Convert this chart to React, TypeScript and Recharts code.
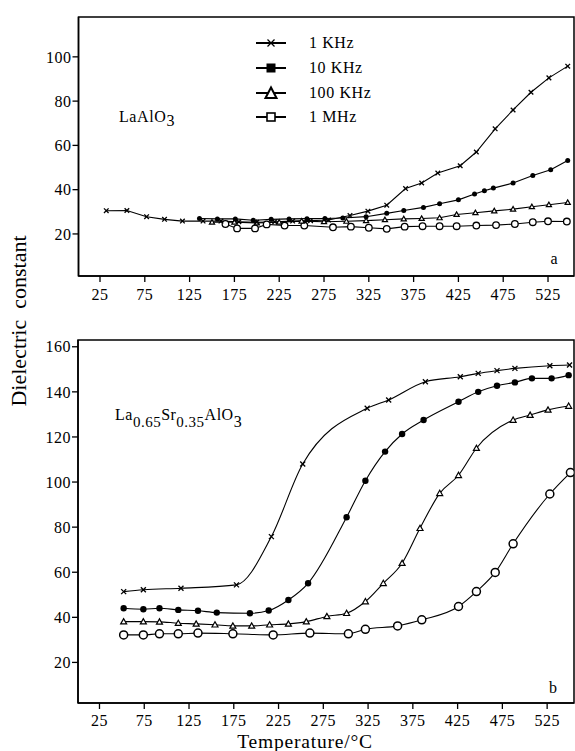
import React from 'react';
import { LineChart, Line, XAxis, YAxis, ReferenceArea, Legend } from 'recharts';

type Pt = [number, number];

const FONT = 'Liberation Serif, Times New Roman, serif';

const xTicks = [25, 75, 125, 175, 225, 275, 325, 375, 425, 475, 525];
const topYTicks = [20, 40, 60, 80, 100];
const bottomYTicks = [20, 40, 60, 80, 100, 120, 140, 160];
const seriesNames = ['1 KHz', '10 KHz', '100 KHz', '1 MHz'];

// (a) LaAlO3
const topKHz1: Pt[] = [
  [32, 30.5], [55, 30.6], [77, 27.8], [97, 26.6], [117, 25.8], [140, 25.8], [160, 25.8],
  [180, 25.5], [200, 25.3], [220, 25.5], [240, 25.8], [260, 26], [280, 26.3], [304, 28.3],
  [324, 30.3], [345, 33], [366, 40.5], [384, 43], [402, 47.5], [427, 50.8], [445, 57],
  [466, 67.5], [486, 76], [506, 84], [526, 90.5], [547, 95.8],
];
const topKHz10: Pt[] = [
  [136, 27], [156, 26.8], [176, 26.8], [196, 26.2], [216, 26.6], [236, 26.8], [256, 26.9],
  [276, 27], [296, 27.2], [322, 27.8], [345, 29.3], [364, 30.6], [386, 32], [404, 33.6],
  [425, 35.4], [443, 38], [454, 39.5], [464, 40.7], [486, 43], [508, 46.4], [528, 49], [547, 53.2],
];
const topKHz100: Pt[] = [
  [150, 25.3], [175, 25.3], [200, 25], [225, 25.3], [250, 25.8], [275, 25.5], [300, 25.7],
  [322, 26], [343, 26.4], [364, 26.8], [384, 27], [404, 27.3], [423, 28.8], [444, 29.6],
  [465, 30.4], [486, 31.2], [507, 32.3], [526, 33.2], [547, 34.2],
];
const topMHz1: Pt[] = [
  [165, 24.5], [178, 22.5], [198, 22.5], [211, 24.3], [231, 23.8], [253, 23.8], [285, 23],
  [305, 23.3], [325, 22.8], [345, 22.3], [365, 23.3], [385, 23.5], [404, 23.5], [423, 23.5],
  [445, 23.8], [467, 24], [488, 24.5], [508, 25.3], [525, 25.7], [546, 25.6],
];

// (b) La0.65Sr0.35AlO3
const botKHz1: Pt[] = [
  [52, 51.4], [74, 52.2], [116, 52.9], [178, 54.4], [217, 75.8], [252, 108], [324, 132.7],
  [348, 136.4], [389, 144.5], [428, 146.7], [448, 148.2], [469, 149.4], [489, 150.4],
  [528, 151.6], [550, 151.9],
];
const botKHz10: Pt[] = [
  [52, 44], [74, 43.6], [92, 44], [113, 43.3], [135, 42.9], [156, 42.1], [193, 41.8],
  [214, 43], [236, 47.7], [258, 55.1], [301, 84.4], [322, 100.6], [344, 113.5], [363, 121.3],
  [387, 127.5], [426, 135.6], [448, 140], [469, 142.7], [489, 144.2], [508, 146], [530, 146],
  [549, 147.4],
];
const botKHz100: Pt[] = [
  [52, 38.1], [74, 38.1], [92, 38], [113, 37.4], [133, 37.1], [154, 36.7], [174, 36.2],
  [195, 36.2], [215, 36.7], [236, 37.1], [256, 38.1], [279, 40.4], [301, 41.8], [322, 47],
  [342, 55.1], [363, 64], [383, 79.5], [405, 95], [426, 103], [446, 115], [487, 127.5],
  [506, 129.7], [526, 132], [549, 133.7],
];
const botMHz1: Pt[] = [
  [52, 32.2], [74, 32.2], [92, 32.7], [113, 32.7], [135, 33], [174, 32.7], [219, 32.2],
  [260, 33], [303, 32.7], [322, 34.7], [358, 36.2], [385, 38.9], [426, 44.8], [446, 51.4],
  [467, 59.9], [487, 72.6], [528, 94.7], [551, 104.2],
];

const rows = (pts: Pt[]) => pts.map(([x, y]) => ({ x, y }));

const tickStyle = { fill: '#000', fontSize: 16, fontFamily: FONT, letterSpacing: 0.5 };

const Cross = ({ cx, cy, s }: any) =>
  cx == null ? null : (
    <g>
      <line x1={cx - s} y1={cy - s} x2={cx + s} y2={cy + s} stroke="#000" strokeWidth={1.3} />
      <line x1={cx - s} y1={cy + s} x2={cx + s} y2={cy - s} stroke="#000" strokeWidth={1.3} />
    </g>
  );
const Disc = ({ cx, cy, r }: any) => (cx == null ? null : <circle cx={cx} cy={cy} r={r} fill="#000" />);
const Tri = ({ cx, cy, s, fill }: any) =>
  cx == null ? null : (
    <polygon
      points={`${cx},${cy - s} ${cx - s},${cy + s * 0.75} ${cx + s},${cy + s * 0.75}`}
      fill={fill}
      stroke="#000"
      strokeWidth={1.2}
    />
  );
const Ring = ({ cx, cy, r, w }: any) =>
  cx == null ? null : <circle cx={cx} cy={cy} r={r} fill="#fff" stroke="#000" strokeWidth={w} />;

const LegendBox = () => (
  <div style={{ fontFamily: FONT, fontSize: 16, color: '#000' }}>
    {seriesNames.map((n, i) => (
      <div key={n} style={{ height: 24.7, display: 'flex', alignItems: 'center' }}>
        <svg width={32} height={16} style={{ display: 'block' }}>
          <line x1={1} x2={31} y1={8} y2={8} stroke="#000" strokeWidth={2} />
          {i === 0 && <Cross cx={16} cy={8} s={3.5} />}
          {i === 1 && <rect x={11.5} y={3.5} width={9} height={9} fill="#000" />}
          {i === 2 && <polygon points="16,2.5 10.5,13 21.5,13" fill="#fff" stroke="#000" strokeWidth={2} />}
          {i === 3 && <rect x={12} y={4} width={8} height={8} fill="#fff" stroke="#000" strokeWidth={1.6} />}
        </svg>
        <span style={{ marginLeft: 22, letterSpacing: 0.6, whiteSpace: 'nowrap' }}>{n}</span>
      </div>
    ))}
  </div>
);

const axisLineStyle = { stroke: '#000', strokeWidth: 1.5 };
const tickLineStyle = { stroke: '#000', strokeWidth: 1.3 };

const TopChart = () => (
  <LineChart width={575} height={320} margin={{ top: 17, right: 1, bottom: 0, left: 0 }}>
    <XAxis type="number" dataKey="x" domain={[1, 554]} ticks={xTicks} interval={0} allowDataOverflow
      height={44} tickSize={6} tickMargin={7} axisLine={axisLineStyle} tickLine={tickLineStyle} tick={tickStyle} />
    <YAxis type="number" dataKey="y" domain={[1, 118]} ticks={topYTicks} interval={0} allowDataOverflow
      width={78.5} tickSize={6} tickMargin={1} axisLine={axisLineStyle} tickLine={tickLineStyle} tick={tickStyle} />
    <ReferenceArea x1={1} x2={554} y1={1} y2={118} fill="none" stroke="#000" strokeWidth={1.5} ifOverflow="visible" />
    <Line data={rows(topMHz1)} dataKey="y" name={seriesNames[3]} type="linear" stroke="#000" strokeWidth={1.1}
      isAnimationActive={false} dot={(p: any) => <Ring key={`a3-${p.index}`} cx={p.cx} cy={p.cy} r={3.3} w={1.3} />} />
    <Line data={rows(topKHz100)} dataKey="y" name={seriesNames[2]} type="linear" stroke="#000" strokeWidth={1.1}
      isAnimationActive={false} dot={(p: any) => <Tri key={`a2-${p.index}`} cx={p.cx} cy={p.cy} s={2.6} fill="#fff" />} />
    <Line data={rows(topKHz10)} dataKey="y" name={seriesNames[1]} type="linear" stroke="#000" strokeWidth={1.1}
      isAnimationActive={false} dot={(p: any) => <Disc key={`a1-${p.index}`} cx={p.cx} cy={p.cy} r={2.5} />} />
    <Line data={rows(topKHz1)} dataKey="y" name={seriesNames[0]} type="linear" stroke="#000" strokeWidth={1.1}
      isAnimationActive={false} dot={(p: any) => <Cross key={`a0-${p.index}`} cx={p.cx} cy={p.cy} s={2.3} />} />
    <Legend layout="vertical" align="center" verticalAlign="middle" content={() => <LegendBox />}
      wrapperStyle={{ position: 'absolute', left: 255, top: 31, width: 170, height: 100 }} />
  </LineChart>
);

const BottomChart = () => (
  <LineChart width={575} height={431} margin={{ top: 20, right: 1, bottom: 0, left: 0 }}>
    <XAxis type="number" dataKey="x" domain={[1, 555]} ticks={xTicks} interval={0} allowDataOverflow
      height={48} tickSize={6} tickMargin={6} axisLine={axisLineStyle} tickLine={tickLineStyle} tick={tickStyle} />
    <YAxis type="number" dataKey="y" domain={[2, 163]} ticks={bottomYTicks} interval={0} allowDataOverflow
      width={78} tickSize={6} tickMargin={1} axisLine={axisLineStyle} tickLine={tickLineStyle} tick={tickStyle} />
    <ReferenceArea x1={1} x2={555} y1={2} y2={163} fill="none" stroke="#000" strokeWidth={1.5} ifOverflow="visible" />
    <Line data={rows(botMHz1)} dataKey="y" name={seriesNames[3]} type="monotone" stroke="#000" strokeWidth={1.1}
      isAnimationActive={false} dot={(p: any) => <Ring key={`b3-${p.index}`} cx={p.cx} cy={p.cy} r={4} w={1.5} />} />
    <Line data={rows(botKHz100)} dataKey="y" name={seriesNames[2]} type="monotone" stroke="#000" strokeWidth={1.1}
      isAnimationActive={false} dot={(p: any) => <Tri key={`b2-${p.index}`} cx={p.cx} cy={p.cy} s={3} fill="#fff" />} />
    <Line data={rows(botKHz10)} dataKey="y" name={seriesNames[1]} type="monotone" stroke="#000" strokeWidth={1.1}
      isAnimationActive={false} dot={(p: any) => <Disc key={`b1-${p.index}`} cx={p.cx} cy={p.cy} r={3.2} />} />
    <Line data={rows(botKHz1)} dataKey="y" name={seriesNames[0]} type="monotone" stroke="#000" strokeWidth={1.1}
      isAnimationActive={false} dot={(p: any) => <Cross key={`b0-${p.index}`} cx={p.cx} cy={p.cy} s={2.5} />} />
  </LineChart>
);

export default function App() {
  return (
    <div style={{ position: 'absolute', left: 0, top: 0, width: 575, height: 751, background: '#fff', overflow: 'hidden', fontFamily: FONT }}>
      <div style={{ position: 'absolute', left: 0, top: 0 }}>
        <TopChart />
      </div>
      <div style={{ position: 'absolute', left: 0, top: 320 }}>
        <BottomChart />
      </div>
      <svg width={575} height={751} style={{ position: 'absolute', left: 0, top: 0, pointerEvents: 'none' }}
        fontFamily={FONT} fill="#000">
        <text x={119} y={122} fontSize={16} letterSpacing={0.6}>
          LaAlO<tspan dy={4}>3</tspan>
        </text>
        <text x={554} y={264} fontSize={16} textAnchor="middle">a</text>
        <text x={115} y={420} fontSize={16} letterSpacing={0.5}>
          La<tspan dy={7} fontSize={15}>0.65</tspan>
          <tspan dy={-7}>Sr</tspan>
          <tspan dy={7} fontSize={15}>0.35</tspan>
          <tspan dy={-7}>AlO</tspan>
          <tspan dy={7}>3</tspan>
        </text>
        <text x={553} y={693} fontSize={16} textAnchor="middle">b</text>
        <text transform="translate(25.5,321) rotate(-90)" fontSize={22} textAnchor="middle">
          {'Dielectric\u00a0\u00a0constant'}
        </text>
        <text x={305} y={748} fontSize={19.5} textAnchor="middle" letterSpacing={0.8}>Temperature/°C</text>
      </svg>
    </div>
  );
}
